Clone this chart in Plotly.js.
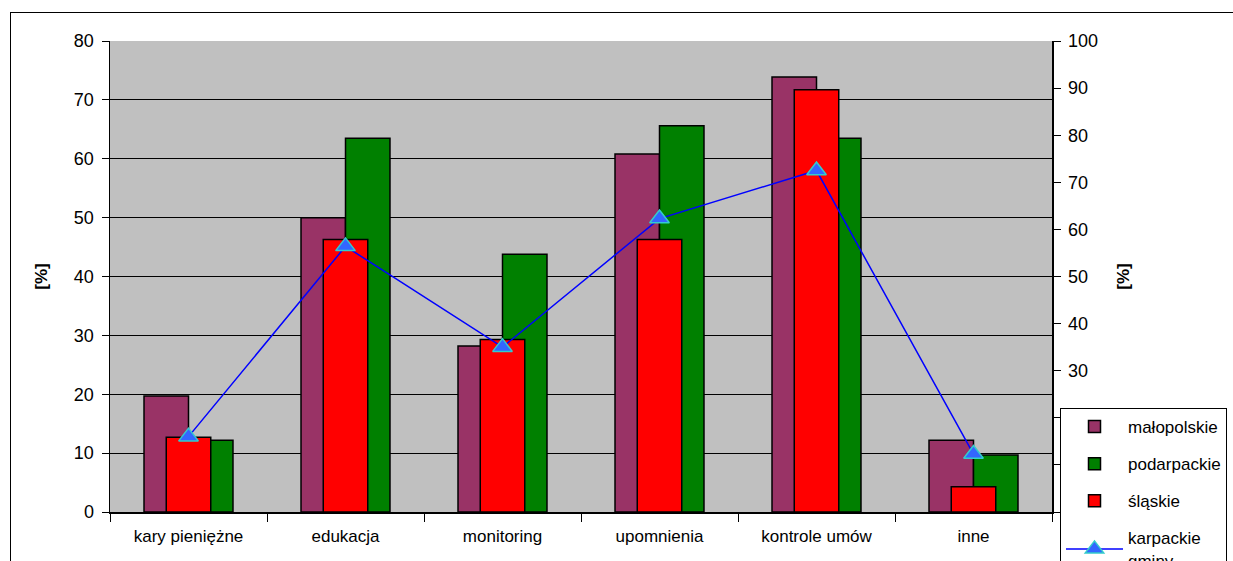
<!DOCTYPE html>
<html><head><meta charset="utf-8">
<script src="https://cdn.plot.ly/plotly-3.0.1.min.js"></script>
<style>
html,body{margin:0;padding:0;overflow:hidden;background:#fff;width:1233px;height:561px;}
#frame{position:absolute;left:10px;top:12px;width:1400px;height:700px;border:1.5px solid #000;box-sizing:border-box;}
#chart{position:absolute;left:0;top:0;width:1320px;height:660px;}
</style></head>
<body><div id="frame"></div><div id="chart"></div>
<script>
const categories = ['kary pieniężne', 'edukacja', 'monitoring', 'upomnienia', 'kontrole umów', 'inne'];
const malopolskie = [19.7, 50.0, 28.2, 60.8, 73.9, 12.2];
const podkarpackie = [12.2, 63.5, 43.8, 65.6, 63.5, 9.7];
const slaskie = [12.7, 46.3, 29.3, 46.3, 71.7, 4.3];
const karpackieGminy = [16.0, 56.4, 35.0, 62.3, 72.5, 12.3];
const seriesNames = ['małopolskie', 'podarpackie', 'śląskie', 'karpackie<br>gminy'];
const leftAxisRange = [0, 80];
const rightAxisRange = [0, 100];
const axisTitle = '<b>[%]</b>';

const FONT = '"Liberation Sans", Arial, sans-serif';
const BW = 0.2834;
const barLine = {color: '#000', width: 1.5};

const traces = [
  {type: 'bar', name: seriesNames[0], x: categories, y: malopolskie, width: BW, offset: -BW,
   marker: {color: '#993366', line: barLine}, legendgroup: 'a'},
  {type: 'bar', name: seriesNames[1], x: categories, y: podkarpackie, width: BW, offset: 0,
   marker: {color: '#008000', line: barLine}, legendgroup: 'b'},
  {type: 'bar', name: seriesNames[2], x: categories, y: slaskie, width: BW, offset: -BW / 2,
   marker: {color: '#FF0000', line: barLine}, legendgroup: 'c'},
  {type: 'scatter', mode: 'lines+markers', name: seriesNames[3], x: categories, y: karpackieGminy, yaxis: 'y2',
   line: {color: '#0000FF', width: 1.5},
   marker: {symbol: 'triangle-up', size: 17, color: '#3366FF', line: {color: '#33CCCC', width: 1.5}},
   legendgroup: 'd'}
];

const axisCommon = {
  ticks: 'outside', ticklen: 7, tickwidth: 1, tickcolor: '#000',
  showline: true, linecolor: '#000', linewidth: 1.5, zeroline: false,
  tickfont: {family: FONT, size: 18, color: '#000'}
};

const W = 1320, H = 660;
const layout = {
  width: W, height: H,
  margin: {l: 110, r: W - 1052, t: 41, b: H - 512, pad: 0},
  paper_bgcolor: 'rgba(0,0,0,0)', plot_bgcolor: '#C0C0C0',
  barmode: 'overlay',
  font: {family: FONT, size: 17, color: '#000'},
  xaxis: Object.assign({}, axisCommon, {
    type: 'category', tickson: 'boundaries', ticklen: 8, range: [-0.5, 5.5],
    showgrid: false, ticklabelstandoff: 8, tickfont: {family: FONT, size: 17, color: '#000'}
  }),
  yaxis: Object.assign({}, axisCommon, {
    range: leftAxisRange, dtick: 10, tick0: 0, showgrid: true, gridcolor: '#000', gridwidth: 1,
    ticklabelstandoff: 4,
    title: {text: axisTitle, standoff: 22, font: {family: FONT, size: 17, color: '#000'}}
  }),
  yaxis2: Object.assign({}, axisCommon, {
    overlaying: 'y', side: 'right', range: rightAxisRange, dtick: 10, tick0: 0, showgrid: false,
    ticklabelstandoff: 4,
    title: {text: axisTitle, standoff: 20, font: {family: FONT, size: 17, color: '#000'}}
  }),
  showlegend: true,
  legend: {
    x: (1060 - 110) / 942, xanchor: 'left', y: (512 - 408) / 471, yanchor: 'top',
    bgcolor: '#FFFFFF', bordercolor: '#000', borderwidth: 1,
    traceorder: 'grouped', tracegroupgap: 12, itemwidth: 57,
    font: {family: FONT, size: 17, color: '#000'}
  },
  hovermode: false
};

Plotly.newPlot('chart', traces, layout, {displayModeBar: false, staticPlot: true});
</script>
</body></html>
